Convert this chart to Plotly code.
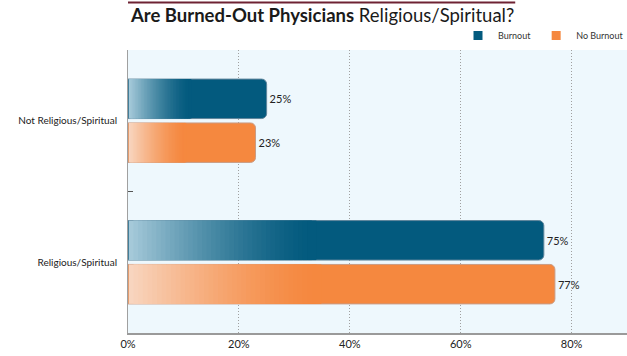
import plotly.graph_objects as go

categories = ["Not Religious/Spiritual", "Religious/Spiritual"]
burnout = [25, 75]
no_burnout = [23, 77]
x_ticks = [0, 20, 40, 60, 80]
x_tick_labels = ["0%", "20%", "40%", "60%", "80%"]

series = [
    ("Burnout", burnout, "#035a7e", "#a5c9d9", "#5f859b"),
    ("No Burnout", no_burnout, "#f5883f", "#f8d5bf", "#c99c84"),
]

def mix(c1, c2, t):
    a = [int(c1[i:i + 2], 16) for i in (1, 3, 5)]
    b = [int(c2[i:i + 2], 16) for i in (1, 3, 5)]
    return "rgb(%d,%d,%d)" % tuple(round(a[k] + (b[k] - a[k]) * t) for k in range(3))

fig = go.Figure()
N = 40
GRAD = 0.44
for name, vals, dark, light, edge in series:
    fig.add_trace(go.Bar(
        y=categories, x=vals, orientation="h", name=name,
        offsetgroup=name, showlegend=False,
        marker=dict(color=dark, line=dict(color=edge, width=1), cornerradius=5),
        text=[f"{v}%" for v in vals], textposition="outside",
        textfont=dict(size=11, color="#222", family="Lato"),
        cliponaxis=False, hoverinfo="skip",
    ))
    for i in range(N):
        t = i / (N - 1)
        t = 1 - (1 - t) ** 1.4
        step = GRAD / N
        fig.add_trace(go.Bar(
            y=categories, x=[v * step * 2 for v in vals],
            base=[v * step * i + 0.15 for v in vals],
            orientation="h", offsetgroup=name, showlegend=False,
            marker=dict(color=mix(light, dark, t), line=dict(width=0)),
            hoverinfo="skip",
        ))

for name, vals, dark, light, edge in series:
    fig.add_trace(go.Scatter(
        x=[None], y=[None], mode="markers", name=name,
        marker=dict(symbol="square", size=9, color=dark),
    ))

fig.update_layout(
    width=627, height=356,
    margin=dict(l=128, r=0, t=50, b=23, autoexpand=False),
    paper_bgcolor="white", plot_bgcolor="#eef8fd",
    barmode="group", bargap=0.38, bargroupgap=0.1,
    font=dict(family="Lato", size=11, color="#222"),
    title=dict(
        text="<b>Are Burned-Out Physicians</b> Religious/Spiritual?",
        x=131 / 627, xanchor="left", y=1 - 16 / 356, yanchor="middle",
        font=dict(family="Lato", size=18.5, color="#1a1a1a"),
    ),
    legend=dict(
        orientation="h", xref="container", yref="container",
        x=458 / 627, xanchor="left", y=1 - 50 / 356, yanchor="bottom",
        font=dict(size=9, color="#333"), bgcolor="rgba(0,0,0,0)",
        itemwidth=30, traceorder="normal",
    ),
    showlegend=True,
    xaxis=dict(
        range=[0, 90], tickvals=x_ticks, ticktext=x_tick_labels,
        showgrid=True, gridcolor="#a0a0a0", griddash="1px,2px", gridwidth=1,
        showline=True, linecolor="#9a9a9a", linewidth=2,
        zeroline=False, ticks="", tickfont=dict(size=11, color="#222"),
        fixedrange=True,
    ),
    yaxis=dict(
        categoryorder="array", categoryarray=categories, autorange="reversed",
        showline=True, linecolor="#a0a0a0", linewidth=1,
        ticks="inside", tickson="boundaries", ticklen=5, tickcolor="#555",
        ticklabelstandoff=8,
        showgrid=False, tickfont=dict(size=10, color="#222"),
        fixedrange=True,
    ),
    shapes=[dict(
        type="line", xref="paper", yref="paper",
        x0=0, x1=0.776, y0=1.168, y1=1.168,
        line=dict(color="#6e2233", width=2),
    )],
)

fig.write_html(
    "out.html",
    config={"displayModeBar": False},
    post_script="document.body.style.margin='0';document.body.style.overflow='hidden';",
)
